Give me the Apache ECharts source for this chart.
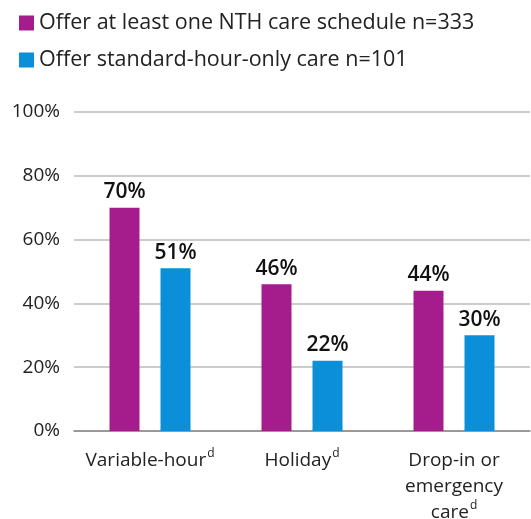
<!DOCTYPE html>
<html>
<head>
<meta charset="utf-8">
<script src="https://cdn.jsdelivr.net/npm/echarts@6/dist/echarts.min.js"></script>
<style>
  html, body { margin: 0; padding: 0; background: #fff; }
  #main { width: 531px; height: 519px; }
</style>
</head>
<body>
<div id="main"></div>
<script>
var categories = ["Variable-hour", "Holiday", "Drop-in or\nemergency\ncare"];
var nthValues = [70, 46, 44];
var standardValues = [51, 22, 30];
var seriesNames = ["Offer at least one NTH care schedule n=333", "Offer standard-hour-only care n=101"];

var chart = echarts.init(document.getElementById("main"));
var font = "Open Sans";

var option = {
  animation: false,
  textStyle: { fontFamily: font },
  legend: {
    orient: "vertical",
    left: 14,
    top: 7,
    itemWidth: 15,
    itemHeight: 15,
    itemGap: 15,
    icon: "rect",
    textStyle: { fontSize: 21.5, color: "#222", fontFamily: font },
    data: seriesNames
  },
  grid: { left: 74, right: 1, top: 112, bottom: 88, outerBoundsMode: "none", containLabel: false },
  xAxis: {
    type: "category",
    data: categories,
    axisLine: { lineStyle: { color: "#888", width: 1.5 } },
    axisTick: { show: false },
    axisLabel: {
      interval: 0,
      margin: 17,
      fontSize: 19,
      color: "#222",
      lineHeight: 26,
      formatter: function (v) {
        return v + "{sup|d}";
      },
      rich: {
        sup: { fontSize: 12, verticalAlign: "top", padding: [0, 0, 12, 1], color: "#222" }
      }
    }
  },
  yAxis: {
    type: "value",
    min: 0,
    max: 100,
    interval: 20,
    axisLine: { show: false },
    axisTick: { show: false },
    axisLabel: { formatter: "{value}%", fontSize: 19, color: "#222", margin: 14 },
    splitLine: { lineStyle: { color: "#bbb", width: 1.5 } }
  },
  series: [
    {
      name: seriesNames[0],
      type: "bar",
      data: nthValues,
      barWidth: 30,
      barGap: "70%",
      itemStyle: { color: "#a51c8d" },
      label: { show: true, position: "top", formatter: "{c}%", fontSize: 21, fontWeight: 600, color: "#111", distance: 5 }
    },
    {
      name: seriesNames[1],
      type: "bar",
      data: standardValues,
      barWidth: 30,
      itemStyle: { color: "#0b8fd8" },
      label: { show: true, position: "top", formatter: "{c}%", fontSize: 21, fontWeight: 600, color: "#111", distance: 5 }
    }
  ]
};

chart.setOption(option);
</script>
</body>
</html>
